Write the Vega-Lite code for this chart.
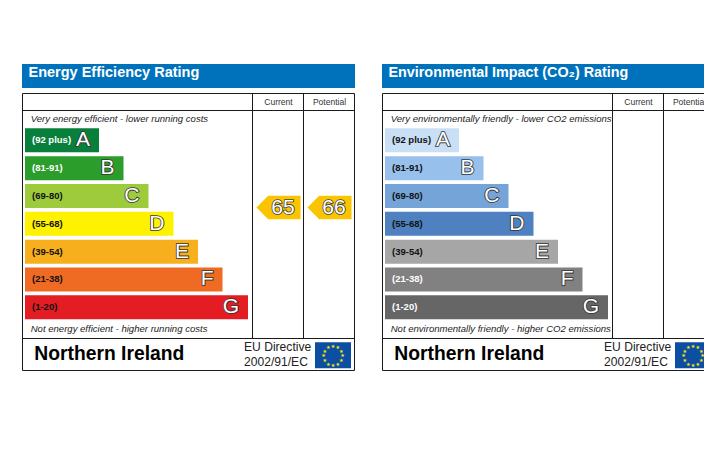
{"$schema":"https://vega.github.io/schema/vega-lite/v6.json","background":"white","padding":{"left":22,"top":64,"right":0,"bottom":0},"bounds":"flush","spacing":27,"config":{"view":{"stroke":null},"text":{"font":"Liberation Sans"}},
"datasets":{"ratings":[{"rating":"A","range":"(92 plus)","length":74},{"rating":"B","range":"(81-91)","length":98.5},{"rating":"C","range":"(69-80)","length":123.5},{"rating":"D","range":"(55-68)","length":148.5},{"rating":"E","range":"(39-54)","length":173},{"rating":"F","range":"(21-38)","length":197.5},{"rating":"G","range":"(1-20)","length":223}],
"stars":[{"star":1},{"star":2},{"star":3},{"star":4},{"star":5},{"star":6},{"star":7},{"star":8},{"star":9},{"star":10},{"star":11},{"star":12}],
"scores":[{"column":"Current","score":65},{"column":"Potential","score":66}],"noscores":[{"column":"Current"},{"column":"Potential"}],"frame":[{"part":"frame"}]},
"hconcat":[
{"width":333,"height":307,"resolve":{"scale":{"x":"independent","y":"independent","color":"independent"}},"layer":[
{"data":{"name":"frame"},"layer":[
{"mark":{"type":"rect","fill":"#0072BC","clip":true},"encoding":{"x":{"datum":-3,"type":"quantitative","scale":{"domain":[-3,330],"range":[0,333],"nice":false,"zero":false},"axis":null},"x2":{"datum":330},"y":{"datum":0,"type":"quantitative","scale":{"domain":[0,307],"range":[0,307],"nice":false,"zero":false},"axis":null},"y2":{"datum":24}}},
{"mark":{"type":"rect","fill":"white","stroke":"#1a1a1a","strokeWidth":1,"clip":true},"encoding":{"x":{"datum":-2.5,"type":"quantitative"},"x2":{"datum":329.5},"y":{"datum":29.5,"type":"quantitative"},"y2":{"datum":306.5}}},
{"mark":{"type":"rule","stroke":"#1a1a1a","strokeWidth":1,"clip":true},"encoding":{"x":{"datum":-2.5,"type":"quantitative"},"x2":{"datum":329.5},"y":{"datum":46.5,"type":"quantitative"}}},
{"mark":{"type":"rule","stroke":"#1a1a1a","strokeWidth":1,"clip":true},"encoding":{"x":{"datum":-2.5,"type":"quantitative"},"x2":{"datum":329.5},"y":{"datum":274.5,"type":"quantitative"}}},
{"mark":{"type":"rule","stroke":"#1a1a1a","strokeWidth":1,"clip":true},"encoding":{"x":{"datum":227.5,"type":"quantitative"},"y":{"datum":29.5,"type":"quantitative"},"y2":{"datum":274.5}}},
{"mark":{"type":"rule","stroke":"#1a1a1a","strokeWidth":1,"clip":true},"encoding":{"x":{"datum":278.5,"type":"quantitative"},"y":{"datum":29.5,"type":"quantitative"},"y2":{"datum":274.5}}},
{"mark":{"type":"text","text":"Energy Efficiency Rating","fontWeight":"bold","fontSize":14.5,"fill":"white","align":"left","baseline":"middle"},"encoding":{"x":{"datum":3.5,"type":"quantitative"},"y":{"datum":9.3,"type":"quantitative"}}},
{"mark":{"type":"text","text":"Very energy efficient - lower running costs","fontStyle":"italic","fontSize":9.55,"fill":"#222","align":"left","baseline":"middle"},"encoding":{"x":{"datum":5.7,"type":"quantitative"},"y":{"datum":54.7,"type":"quantitative"}}},
{"mark":{"type":"text","text":"Not energy efficient - higher running costs","fontStyle":"italic","fontSize":9.55,"fill":"#222","align":"left","baseline":"middle"},"encoding":{"x":{"datum":5.7,"type":"quantitative"},"y":{"datum":265,"type":"quantitative"}}},
{"mark":{"type":"text","text":"Northern Ireland","fontWeight":"bold","fontSize":19.3,"fill":"black","align":"left","baseline":"middle"},"encoding":{"x":{"datum":9.3,"type":"quantitative"},"y":{"datum":289.5,"type":"quantitative"}}},
{"mark":{"type":"text","text":"EU Directive","fontSize":12.1,"fill":"#222","align":"left","baseline":"middle"},"encoding":{"x":{"datum":219,"type":"quantitative"},"y":{"datum":282.7,"type":"quantitative"}}},
{"mark":{"type":"text","text":"2002/91/EC","fontSize":12.1,"fill":"#222","align":"left","baseline":"middle"},"encoding":{"x":{"datum":219,"type":"quantitative"},"y":{"datum":297.7,"type":"quantitative"}}},
{"mark":{"type":"rect","fill":"#0B4EA2","clip":true},"encoding":{"x":{"datum":290,"type":"quantitative"},"x2":{"datum":326},"y":{"datum":278.3,"type":"quantitative"},"y2":{"datum":304.3}}},
{"data":{"name":"stars"},"mark":{"type":"text","text":"★","font":"DejaVu Sans","fontSize":5,"fill":"#FFE500","align":"center","baseline":"middle"},"encoding":{"x":{"datum":308,"type":"quantitative"},"y":{"datum":291.3,"type":"quantitative"},"theta":{"field":"star","type":"quantitative","scale":{"domain":[0,12]}},"radius":{"value":9.5}}}
]},
{"data":{"name":"ratings"},"layer":[
{"mark":{"type":"bar"},"encoding":{"x":{"field":"length","type":"quantitative","stack":null,"scale":{"domain":[-3,330],"range":[0,333],"nice":false,"zero":false},"axis":null},"y":{"field":"rating","type":"nominal","scale":{"domain":["A","B","C","D","E","F","G"],"range":[64.3,255.3],"paddingInner":0.1376,"paddingOuter":0},"axis":null},"color":{"field":"rating","type":"nominal","legend":null,"scale":{"domain":["A","B","C","D","E","F","G"],"range":["#087F3A","#2A9D2A","#9DCB3C","#FFF200","#F7AF1D","#EF6A23","#E31D23"]}}}},
{"mark":{"type":"text","fontWeight":"bold","fontSize":9.5,"align":"left","baseline":"middle"},"encoding":{"x":{"datum":7,"type":"quantitative"},"y":{"field":"rating","type":"nominal"},"text":{"field":"range"},"color":{"condition":{"test":"indexof(['A','B'],datum.rating)>=0","value":"white"},"value":"#111"}}},
{"mark":{"type":"text","fontSize":21,"align":"right","baseline":"middle","dx":-9,"fill":"#333","stroke":"#333","strokeWidth":1.7},"encoding":{"x":{"field":"length","type":"quantitative"},"y":{"field":"rating","type":"nominal"},"text":{"field":"rating"}}},
{"mark":{"type":"text","fontSize":21,"align":"right","baseline":"middle","dx":-9,"fill":"white"},"encoding":{"x":{"field":"length","type":"quantitative"},"y":{"field":"rating","type":"nominal"},"text":{"field":"rating"}}}
]},
{"data":{"name":"scores"},"layer":[
{"mark":{"type":"point","filled":true,"fill":"#FBC400","opacity":1,"size":1936,"shape":"M -1 0 L -0.47 -0.53 L 1 -0.53 L 1 0.53 L -0.47 0.53 Z"},"encoding":{"x":{"field":"column","type":"nominal","scale":{"type":"point","domain":["Current","Potential"],"range":[256.5,307.5],"padding":0},"axis":null},"y":{"datum":143.5,"type":"quantitative","scale":{"domain":[0,307],"range":[0,307],"nice":false,"zero":false},"axis":null}}},
{"mark":{"type":"text","fontSize":21,"align":"center","baseline":"middle","dx":4.5,"fill":"#444","stroke":"#444","strokeWidth":1.7},"encoding":{"x":{"field":"column","type":"nominal"},"y":{"datum":143.5,"type":"quantitative"},"text":{"field":"score"}}},
{"mark":{"type":"text","fontSize":21,"align":"center","baseline":"middle","dx":4.5,"fill":"white"},"encoding":{"x":{"field":"column","type":"nominal"},"y":{"datum":143.5,"type":"quantitative"},"text":{"field":"score"}}},
{"mark":{"type":"text","fontSize":8.5,"align":"center","baseline":"middle","fill":"#333"},"encoding":{"x":{"field":"column","type":"nominal"},"y":{"datum":38.3,"type":"quantitative"},"text":{"field":"column"}}}
]}
]},
{"width":322,"height":307,"resolve":{"scale":{"x":"independent","y":"independent","color":"independent"}},"layer":[
{"data":{"name":"frame"},"layer":[
{"mark":{"type":"rect","fill":"#0072BC","clip":true},"encoding":{"x":{"datum":-3,"type":"quantitative","scale":{"domain":[-3,319],"range":[0,322],"nice":false,"zero":false},"axis":null},"x2":{"datum":330},"y":{"datum":0,"type":"quantitative","scale":{"domain":[0,307],"range":[0,307],"nice":false,"zero":false},"axis":null},"y2":{"datum":24}}},
{"mark":{"type":"rect","fill":"white","stroke":"#1a1a1a","strokeWidth":1,"clip":true},"encoding":{"x":{"datum":-2.5,"type":"quantitative"},"x2":{"datum":329.5},"y":{"datum":29.5,"type":"quantitative"},"y2":{"datum":306.5}}},
{"mark":{"type":"rule","stroke":"#1a1a1a","strokeWidth":1,"clip":true},"encoding":{"x":{"datum":-2.5,"type":"quantitative"},"x2":{"datum":329.5},"y":{"datum":46.5,"type":"quantitative"}}},
{"mark":{"type":"rule","stroke":"#1a1a1a","strokeWidth":1,"clip":true},"encoding":{"x":{"datum":-2.5,"type":"quantitative"},"x2":{"datum":329.5},"y":{"datum":274.5,"type":"quantitative"}}},
{"mark":{"type":"rule","stroke":"#1a1a1a","strokeWidth":1,"clip":true},"encoding":{"x":{"datum":227.5,"type":"quantitative"},"y":{"datum":29.5,"type":"quantitative"},"y2":{"datum":274.5}}},
{"mark":{"type":"rule","stroke":"#1a1a1a","strokeWidth":1,"clip":true},"encoding":{"x":{"datum":278.5,"type":"quantitative"},"y":{"datum":29.5,"type":"quantitative"},"y2":{"datum":274.5}}},
{"mark":{"type":"text","text":"Environmental Impact (CO₂) Rating","fontWeight":"bold","fontSize":14.35,"fill":"white","align":"left","baseline":"middle"},"encoding":{"x":{"datum":3.5,"type":"quantitative"},"y":{"datum":9.3,"type":"quantitative"}}},
{"mark":{"type":"text","text":"Very environmentally friendly - lower CO2 emissions","fontStyle":"italic","fontSize":9.55,"fill":"#222","align":"left","baseline":"middle"},"encoding":{"x":{"datum":5.7,"type":"quantitative"},"y":{"datum":54.7,"type":"quantitative"}}},
{"mark":{"type":"text","text":"Not environmentally friendly - higher CO2 emissions","fontStyle":"italic","fontSize":9.55,"fill":"#222","align":"left","baseline":"middle"},"encoding":{"x":{"datum":5.7,"type":"quantitative"},"y":{"datum":265,"type":"quantitative"}}},
{"mark":{"type":"text","text":"Northern Ireland","fontWeight":"bold","fontSize":19.3,"fill":"black","align":"left","baseline":"middle"},"encoding":{"x":{"datum":9.3,"type":"quantitative"},"y":{"datum":289.5,"type":"quantitative"}}},
{"mark":{"type":"text","text":"EU Directive","fontSize":12.1,"fill":"#222","align":"left","baseline":"middle"},"encoding":{"x":{"datum":219,"type":"quantitative"},"y":{"datum":282.7,"type":"quantitative"}}},
{"mark":{"type":"text","text":"2002/91/EC","fontSize":12.1,"fill":"#222","align":"left","baseline":"middle"},"encoding":{"x":{"datum":219,"type":"quantitative"},"y":{"datum":297.7,"type":"quantitative"}}},
{"mark":{"type":"rect","fill":"#0B4EA2","clip":true},"encoding":{"x":{"datum":290,"type":"quantitative"},"x2":{"datum":326},"y":{"datum":278.3,"type":"quantitative"},"y2":{"datum":304.3}}},
{"data":{"name":"stars"},"mark":{"type":"text","text":"★","font":"DejaVu Sans","fontSize":5,"fill":"#FFE500","align":"center","baseline":"middle","clip":true},"encoding":{"x":{"datum":308,"type":"quantitative"},"y":{"datum":291.3,"type":"quantitative"},"theta":{"field":"star","type":"quantitative","scale":{"domain":[0,12]}},"radius":{"value":9.5}}}
]},
{"data":{"name":"ratings"},"layer":[
{"mark":{"type":"bar"},"encoding":{"x":{"field":"length","type":"quantitative","stack":null,"scale":{"domain":[-3,319],"range":[0,322],"nice":false,"zero":false},"axis":null},"y":{"field":"rating","type":"nominal","scale":{"domain":["A","B","C","D","E","F","G"],"range":[64.3,255.3],"paddingInner":0.1376,"paddingOuter":0},"axis":null},"color":{"field":"rating","type":"nominal","legend":null,"scale":{"domain":["A","B","C","D","E","F","G"],"range":["#C9DFF5","#97C0EC","#74A4D8","#4F81C0","#A6A6A6","#818181","#666666"]}}}},
{"mark":{"type":"text","fontWeight":"bold","fontSize":9.5,"align":"left","baseline":"middle"},"encoding":{"x":{"datum":7,"type":"quantitative"},"y":{"field":"rating","type":"nominal"},"text":{"field":"range"},"color":{"condition":{"test":"indexof(['F','G'],datum.rating)>=0","value":"white"},"value":"#111"}}},
{"mark":{"type":"text","fontSize":21,"align":"right","baseline":"middle","dx":-9,"fill":"#333","stroke":"#333","strokeWidth":1.7},"encoding":{"x":{"field":"length","type":"quantitative"},"y":{"field":"rating","type":"nominal"},"text":{"field":"rating"}}},
{"mark":{"type":"text","fontSize":21,"align":"right","baseline":"middle","dx":-9,"fill":"white"},"encoding":{"x":{"field":"length","type":"quantitative"},"y":{"field":"rating","type":"nominal"},"text":{"field":"rating"}}}
]},
{"data":{"name":"noscores"},"layer":[
{"mark":{"type":"text","fontSize":8.5,"align":"center","baseline":"middle","fill":"#333","clip":true},"encoding":{"x":{"field":"column","type":"nominal","scale":{"type":"point","domain":["Current","Potential"],"range":[256.5,307.5],"padding":0},"axis":null},"y":{"datum":38.3,"type":"quantitative","scale":{"domain":[0,307],"range":[0,307],"nice":false,"zero":false},"axis":null},"text":{"field":"column"}}}
]}
]}
]}
